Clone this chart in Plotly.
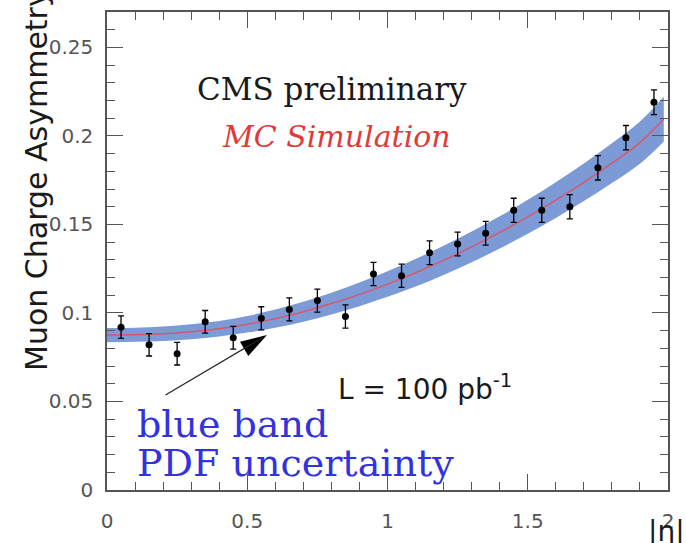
import plotly.graph_objects as go

# Measured muon charge asymmetry in |eta| bins
eta_bins = [0.05, 0.15, 0.25, 0.35, 0.45, 0.55, 0.65, 0.75, 0.85, 0.95,
            1.05, 1.15, 1.25, 1.35, 1.45, 1.55, 1.65, 1.75, 1.85, 1.95]
asym = [0.092, 0.082, 0.077, 0.095, 0.086, 0.097, 0.102, 0.107, 0.098, 0.122,
        0.121, 0.134, 0.139, 0.145, 0.158, 0.158, 0.160, 0.182, 0.199, 0.219]
asym_err = [0.0064, 0.0063, 0.0064, 0.0064, 0.0064, 0.0065, 0.0065, 0.0065, 0.0066, 0.0066,
            0.0066, 0.0067, 0.0067, 0.0067, 0.0068, 0.0068, 0.0068, 0.0069, 0.0069, 0.0070]

# MC prediction (central value) and PDF uncertainty half-width
eta_curve = [0.0, 0.1, 0.2, 0.3, 0.4, 0.5, 0.6, 0.7, 0.8, 0.9, 1.0,
             1.1, 1.2, 1.3, 1.4, 1.5, 1.6, 1.7, 1.8, 1.9, 1.985]
mc_central = [0.0875, 0.0877, 0.0883, 0.0894, 0.0911, 0.0936, 0.0968, 0.1007, 0.1053, 0.1105, 0.1163,
              0.1227, 0.1297, 0.1373, 0.1455, 0.1543, 0.1637, 0.1738, 0.1846, 0.1962, 0.2095]
pdf_halfwidth = [0.0040, 0.0040, 0.0041, 0.0042, 0.0044, 0.0047, 0.0051, 0.0056, 0.0061, 0.0067, 0.0072,
                 0.0078, 0.0083, 0.0087, 0.0091, 0.0096, 0.0101, 0.0106, 0.0112, 0.0119, 0.0126]

band_hi = [c + h for c, h in zip(mc_central, pdf_halfwidth)]
band_lo = [c - h for c, h in zip(mc_central, pdf_halfwidth)]

BAND = "#7b9ad6"
AXIS = "#555555"

# plot-area pixel geometry, used to place text in paper coordinates
L, R, T, B = 107, 668, 10, 491
W, H = 686, 543


def px(x):
    return (x - L) / (R - L)


def py(y):
    return (B - y) / (B - T)


fig = go.Figure()

fig.add_trace(go.Scatter(x=eta_curve, y=band_lo, mode="lines", line=dict(width=0, shape="spline"),
                         hoverinfo="skip", showlegend=False))
fig.add_trace(go.Scatter(x=eta_curve, y=band_hi, mode="lines", line=dict(width=0, shape="spline"),
                         fill="tonexty", fillcolor=BAND, hoverinfo="skip", showlegend=False))
fig.add_trace(go.Scatter(x=eta_curve, y=mc_central, mode="lines",
                         line=dict(color="#d9576a", width=1.5, shape="spline"), showlegend=False))
fig.add_trace(go.Scatter(x=eta_bins, y=asym, mode="markers",
                         marker=dict(color="black", size=7),
                         error_y=dict(type="data", array=asym_err, color="black", thickness=1.3, width=3),
                         showlegend=False))

axis_common = dict(
    showgrid=False, zeroline=False, showline=True, linecolor=AXIS, linewidth=1.5,
    mirror="ticks", ticks="inside", ticklen=16, tickwidth=1.4, tickcolor=AXIS,
    layer="above traces",
    tickfont=dict(family="DejaVu Sans", size=20, color="#555555"),
)

fig.update_xaxes(range=[0, 2], dtick=0.5, tick0=0, ticklabelstandoff=12,
                 minor=dict(dtick=0.1, ticklen=8, tickcolor=AXIS, tickwidth=1.4, ticks="inside"),
                 **axis_common)
fig.update_yaxes(range=[0, 0.27], dtick=0.05, tick0=0, ticklabelstandoff=8,
                 minor=dict(dtick=0.01, ticklen=8, tickcolor=AXIS, tickwidth=1.4, ticks="inside"),
                 **axis_common)

annotations = [
    dict(text="CMS preliminary", x=px(332), y=py(87), xanchor="center", yanchor="middle",
         font=dict(family="DejaVu Serif", size=31, color="#1a1a1a")),
    dict(text="<i>MC Simulation</i>", x=px(336), y=py(135), xanchor="center", yanchor="middle",
         font=dict(family="DejaVu Serif", size=30, color="#e03a3a")),
    dict(text="L = 100 pb<sup>-1</sup>", x=px(336), y=py(388), xanchor="left", yanchor="middle",
         font=dict(family="DejaVu Sans", size=28, color="#1a1a1a")),
    dict(text="blue band", x=px(135), y=py(425), xanchor="left", yanchor="middle",
         font=dict(family="DejaVu Serif", size=38, color="#3333dd")),
    dict(text="PDF uncertainty", x=px(135), y=py(464), xanchor="left", yanchor="middle",
         font=dict(family="DejaVu Serif", size=38, color="#3333dd")),
    dict(text="Muon Charge Asymmetry", textangle=-90, x=px(37), y=py(179),
         xanchor="center", yanchor="middle",
         font=dict(family="DejaVu Sans", size=30, color="#1a1a1a")),
    dict(text="|η|", x=px(666), y=py(533), xanchor="center", yanchor="middle",
         font=dict(family="DejaVu Sans", size=28, color="#1a1a1a")),
    # arrow shaft pointing at the band
    dict(text="", x=px(262), y=py(338), ax=164 - 262, ay=396 - 338, showarrow=True,
         arrowhead=0, arrowwidth=1.2, arrowcolor="#222222"),
]
for a in annotations:
    a.setdefault("xref", "paper")
    a.setdefault("yref", "paper")
    a.setdefault("showarrow", False)
fig.update_layout(annotations=annotations)

# filled arrow head, drawn in pixels relative to its tip
fig.add_shape(type="path", xref="paper", yref="paper", xsizemode="pixel", ysizemode="pixel",
              xanchor=px(267), yanchor=py(335),
              path="M0,0 L-27,-6.7 L-18.7,-21 Z", fillcolor="black", line=dict(width=0))

fig.update_layout(
    width=W, height=H, autosize=False,
    margin=dict(l=L, r=W - R, t=T, b=H - B),
    plot_bgcolor="white", paper_bgcolor="white",
    showlegend=False,
)

fig.write_html("out.html")
